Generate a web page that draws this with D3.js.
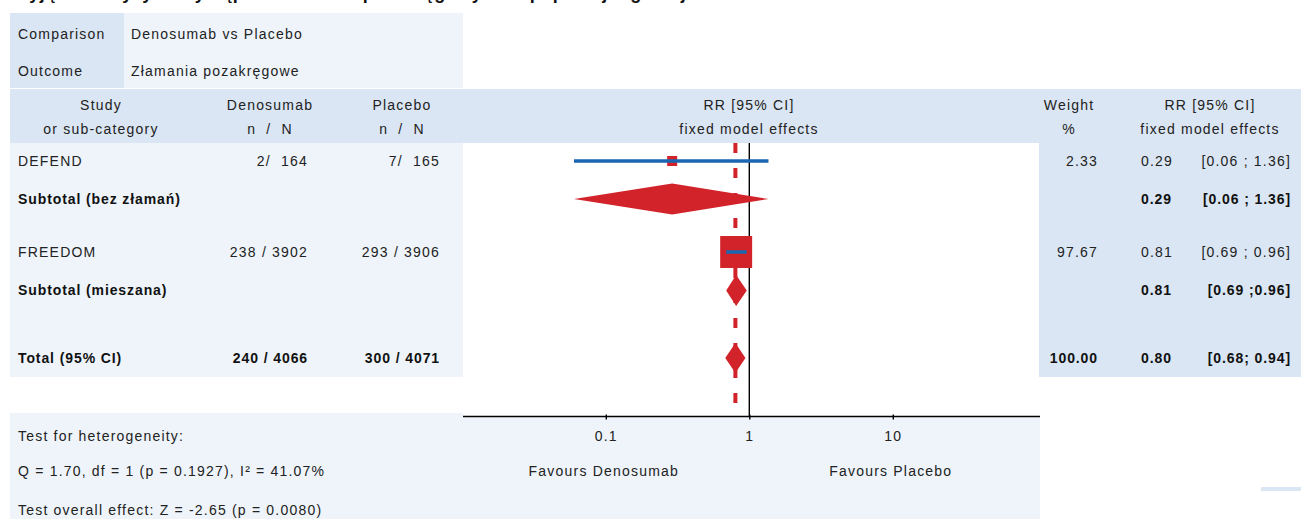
<!DOCTYPE html>
<html>
<head>
<meta charset="utf-8">
<script src="https://cdn.jsdelivr.net/npm/d3@7"></script>
<style>
  body { margin: 0; background: #fff; }
  svg text { font-family: "Liberation Sans", Arial, sans-serif; font-size: 14px; letter-spacing: 1.2px; fill: #222; white-space: pre; }
  svg text.b { font-weight: bold; fill: #111; letter-spacing: 0.9px; }
</style>
</head>
<body>
<svg id="chart"></svg>
<script>
// study level data
const studies = ['DEFEND', 'FREEDOM']
const denoEvents = [2, 238]
const denoTotal = [164, 3902]
const placEvents = [7, 293]
const placTotal = [165, 3906]
const studyRR = [0.29, 0.81]
const studyLo = [0.06, 0.69]
const studyHi = [1.36, 0.96]
const studyWeight = [2.33, 97.67]

// subgroup pooled results
const subgroups = ['Subtotal (bez złamań)', 'Subtotal (mieszana)']
const subRR = [0.29, 0.81]
const subLo = [0.06, 0.69]
const subHi = [1.36, 0.96]

// overall
const totalRR = 0.80
const totalLo = 0.68
const totalHi = 0.94
const totalWeight = 100

const axisTicks = [0.1, 1, 10]
const heterogeneity = ['Test for heterogeneity:', 'Q = 1.70, df = 1 (p = 0.1927), I² = 41.07%', 'Test overall effect: Z = -2.65 (p = 0.0080)']

const W = 1301, H = 519
const red = '#d2232a', blue = '#1a66b0'
const dark = '#dae6f3', light = '#eef4fa'

const svg = d3.select('#chart').attr('width', W).attr('height', H)

// backgrounds
const bg = svg.append('g')
bg.append('rect').attr('x', 10).attr('y', 13).attr('width', 114).attr('height', 75).attr('fill', dark)
bg.append('rect').attr('x', 124).attr('y', 13).attr('width', 339).attr('height', 75).attr('fill', light)
bg.append('rect').attr('x', 10).attr('y', 89).attr('width', W - 10).attr('height', 54).attr('fill', dark)
bg.append('rect').attr('x', 10).attr('y', 143).attr('width', 453).attr('height', 234).attr('fill', light)
bg.append('rect').attr('x', 1039).attr('y', 143).attr('width', W - 1039).attr('height', 234).attr('fill', dark)
bg.append('rect').attr('x', 10).attr('y', 413).attr('width', 453).attr('height', H - 413).attr('fill', light)
bg.append('rect').attr('x', 463).attr('y', 417).attr('width', 577).attr('height', H - 417).attr('fill', light)
bg.append('rect').attr('x', 1261).attr('y', 487).attr('width', 40).attr('height', 4).attr('fill', dark)

// title (cut off at the top edge, as in the source)
svg.append('text').attr('x', 12).attr('y', -1).attr('class', 'b')
  .style('font-size', '18px').style('letter-spacing', '0.5px')
  .text('Wyjątkowe ryzyko wystąpienia złamań pozakręgowych w populacji ogólnej')

// comparison box
svg.append('text').attr('x', 18).attr('y', 34).attr('dy', '0.35em').text('Comparison')
svg.append('text').attr('x', 131).attr('y', 34).attr('dy', '0.35em').text('Denosumab vs Placebo')
svg.append('text').attr('x', 18).attr('y', 71).attr('dy', '0.35em').text('Outcome')
svg.append('text').attr('x', 131).attr('y', 71).attr('dy', '0.35em').text('Złamania pozakręgowe')

// header
const headers = [
  [101, 'Study', 'or sub-category'],
  [270, 'Denosumab', 'n  /  N'],
  [402, 'Placebo', 'n  /  N'],
  [749, 'RR [95% CI]', 'fixed model effects'],
  [1069, 'Weight', '%'],
  [1210, 'RR [95% CI]', 'fixed model effects']
]
headers.forEach(h => {
  svg.append('text').attr('x', h[0]).attr('y', 105).attr('dy', '0.35em').attr('text-anchor', 'middle').text(h[1])
  svg.append('text').attr('x', h[0]).attr('y', 129).attr('dy', '0.35em').attr('text-anchor', 'middle').text(h[2])
})

// x scale (log)
const x = d3.scaleLog().domain([0.01, 100]).range([462.3, 1036.3])
const plotTop = 143, axisY = 416.5

const fmt = d3.format('.2f')
const nn = (n, N) => n < 10 ? n + '/  ' + N : n + ' / ' + N

// rows
const rows = [
  { kind: 'study', i: 0, y: 161 },
  { kind: 'sub', i: 0, y: 199 },
  { kind: 'study', i: 1, y: 252 },
  { kind: 'sub', i: 1, y: 290.5 },
  { kind: 'total', y: 358 }
]
const ciSep = [' ; ', ' ; ', ' ; ', ' ;', '; ']
const sizeScale = d3.scaleLinear().domain([0, 100]).range([9.5, 32.5])

// reference lines
svg.append('line').attr('x1', x(1)).attr('x2', x(1)).attr('y1', plotTop).attr('y2', axisY)
  .attr('stroke', '#000').attr('stroke-width', 1.4)
svg.append('line').attr('x1', x(totalRR)).attr('x2', x(totalRR)).attr('y1', plotTop).attr('y2', axisY)
  .attr('stroke', red).attr('stroke-width', 4).attr('stroke-dasharray', '10,15')

const diamond = (rr, lo, hi, y, h) =>
  `M${x(lo)},${y} L${x(rr)},${y - h} L${x(hi)},${y} L${x(rr)},${y + h} Z`

rows.forEach((r, k) => {
  const t = (cls) => (xx, txt, anchor) => svg.append('text').attr('class', cls)
    .attr('x', xx).attr('y', r.y).attr('dy', '0.35em').attr('text-anchor', anchor || 'start').text(txt)
  if (r.kind === 'study') {
    const i = r.i, tx = t('')
    tx(18, studies[i])
    tx(308, nn(denoEvents[i], denoTotal[i]), 'end')
    tx(440, nn(placEvents[i], placTotal[i]), 'end')
    tx(1098, fmt(studyWeight[i]), 'end')
    tx(1141, fmt(studyRR[i]))
    tx(1291, '[' + fmt(studyLo[i]) + ciSep[k] + fmt(studyHi[i]) + ']', 'end')
    const s = sizeScale(studyWeight[i])
    svg.append('rect').attr('x', x(studyRR[i]) - s / 2).attr('y', r.y - s / 2)
      .attr('width', s).attr('height', s).attr('fill', red)
    svg.append('line').attr('x1', x(studyLo[i])).attr('x2', x(studyHi[i]))
      .attr('y1', r.y).attr('y2', r.y).attr('stroke', blue).attr('stroke-width', 3.5)
  } else if (r.kind === 'sub') {
    const i = r.i, tx = t('b')
    tx(18, subgroups[i])
    tx(1141, fmt(subRR[i]))
    tx(1291, '[' + fmt(subLo[i]) + ciSep[k] + fmt(subHi[i]) + ']', 'end')
    svg.append('path').attr('d', diamond(subRR[i], subLo[i], subHi[i], r.y, 15.5)).attr('fill', red)
  } else {
    const tx = t('b')
    tx(18, 'Total (95% CI)')
    tx(308, d3.sum(denoEvents) + ' / ' + d3.sum(denoTotal), 'end')
    tx(440, d3.sum(placEvents) + ' / ' + d3.sum(placTotal), 'end')
    tx(1098, fmt(totalWeight), 'end')
    tx(1141, fmt(totalRR))
    tx(1291, '[' + fmt(totalLo) + ciSep[k] + fmt(totalHi) + ']', 'end')
    svg.append('path').attr('d', diamond(totalRR, totalLo, totalHi, r.y, 15)).attr('fill', red)
  }
})

// axis
const ax = svg.append('g').attr('transform', `translate(0,${axisY})`)
  .call(d3.axisBottom(x).tickValues(axisTicks).tickFormat(d3.format('')).tickSize(3).tickPadding(12))
ax.select('.domain').remove()
ax.selectAll('.tick line').attr('y1', -2).attr('stroke', '#000').attr('stroke-width', 1.4)
ax.selectAll('.tick text').attr('fill', '#222').style('font-size', '14px')
  .style('font-family', '"Liberation Sans", Arial, sans-serif')
ax.append('line').attr('x1', 463).attr('x2', 1040).attr('stroke', '#000').attr('stroke-width', 1.6)

svg.append('text').attr('x', x(0.1) - 2).attr('y', 471).attr('dy', '0.35em').attr('text-anchor', 'middle').text('Favours Denosumab')
svg.append('text').attr('x', x(10) - 2).attr('y', 471).attr('dy', '0.35em').attr('text-anchor', 'middle').text('Favours Placebo')

// heterogeneity
heterogeneity.forEach((s, i) => {
  svg.append('text').attr('x', 18).attr('y', [436, 471, 510][i]).attr('dy', '0.35em').text(s)
})
</script>
</body>
</html>
